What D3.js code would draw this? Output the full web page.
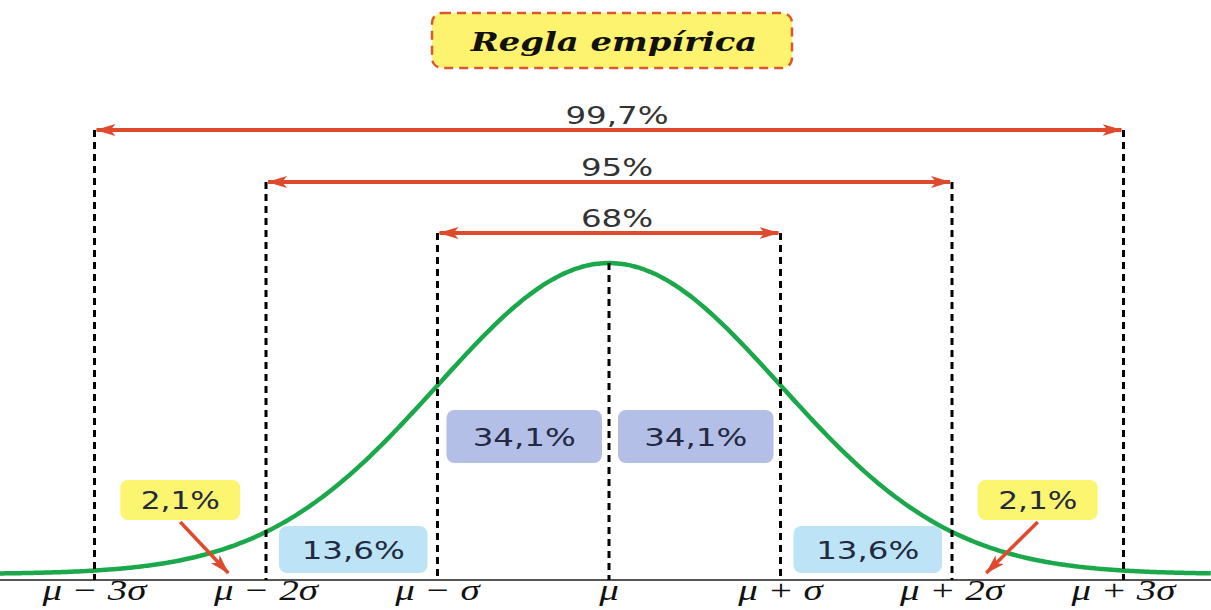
<!DOCTYPE html>
<html>
<head>
<meta charset="utf-8">
<script src="https://cdn.jsdelivr.net/npm/d3@7"></script>
<style>
  body { margin: 0; background: #fff; }
  svg { display: block; }
</style>
</head>
<body>
<div id="chart"></div>
<script>
// data
const sigmaTicks = [-3, -2, -1, 0, 1, 2, 3];
const tickLabels = ["μ − 3σ", "μ − 2σ", "μ − σ", "μ", "μ + σ", "μ + 2σ", "μ + 3σ"];
const spanSigmas = [3, 2, 1];
const spanLabels = ["99,7%", "95%", "68%"];
const innerBands = [[-1, 0], [0, 1]];
const innerLabels = ["34,1%", "34,1%"];
const midBands = [[-2, -1], [1, 2]];
const midLabels = ["13,6%", "13,6%"];
const tailCenters = [-2.5, 2.5];
const tailTargets = [-2.22, 2.2];
const tailLabels = ["2,1%", "2,1%"];
const title = "Regla empírica";

const w = 1211, h = 610;
const svg = d3.select("#chart").append("svg").attr("width", w).attr("height", h);

// scales: x in sigma units, y normalised density
const x = d3.scaleLinear().domain([-3, 3]).range([94.5, 1123.5]);
const y = d3.scaleLinear().domain([0, 1]).range([574, 263]);
const baseY = 580;
const spanY = {3: 130, 2: 182, 1: 233};

const red = "#e04a2c";
const stretch = 1.3; // the original lettering is drawn wide

// text helper: centred at cx, baseline cy, stretched horizontally
function wideText(cx, cy, str, size, family, color, italic, bold) {
    return svg.append("text")
        .attr("transform", "translate(" + cx + "," + cy + ") scale(" + stretch + ",1)")
        .attr("text-anchor", "middle")
        .style("font-family", family)
        .style("font-size", size + "px")
        .style("font-style", italic ? "italic" : "normal")
        .style("font-weight", bold ? "bold" : "normal")
        .attr("fill", color)
        .text(str);
}

const defs = svg.append("defs");
defs.append("marker")
    .attr("id", "head")
    .attr("viewBox", "0 0 20 12")
    .attr("refX", 19).attr("refY", 6)
    .attr("markerWidth", 20).attr("markerHeight", 12)
    .attr("markerUnits", "userSpaceOnUse")
    .attr("orient", "auto-start-reverse")
    .append("path")
    .attr("d", "M0,0 L20,6 L0,12 L5,6 Z")
    .attr("fill", red);

// title box
svg.append("rect")
    .attr("x", 432).attr("y", 13).attr("width", 360).attr("height", 55)
    .attr("rx", 10)
    .attr("fill", "#fef36e")
    .attr("stroke", "#d9592e").attr("stroke-width", 2.5)
    .attr("stroke-dasharray", "9,6");
wideText(614, 51, title, 26, "'DejaVu Serif', serif", "#111", true, true);

// baseline
svg.append("line")
    .attr("x1", 0).attr("x2", w)
    .attr("y1", baseY).attr("y2", baseY)
    .attr("stroke", "#555").attr("stroke-width", 1.8);

// boxes
function box(x0, x1, y0, y1, fill, label, size) {
    svg.append("rect")
        .attr("x", x0).attr("y", y0)
        .attr("width", x1 - x0).attr("height", y1 - y0)
        .attr("rx", 8)
        .attr("fill", fill);
    wideText((x0 + x1) / 2, (y0 + y1) / 2 + size * 0.36, label, size, "'DejaVu Sans', sans-serif", "#232a3f");
}

innerBands.forEach((b, i) => box(x(b[0]) + 9, x(b[1]) - 7, 410, 463, "#b4bfe8", innerLabels[i], 25));
midBands.forEach((b, i) => box(x(b[0]) + 13, x(b[1]) - 10, 526, 573, "#bce4f6", midLabels[i], 25));
tailCenters.forEach((c, i) => box(x(c) - 60, x(c) + 60, 480, 520, "#fcf570", tailLabels[i], 24));

// curve
const curveData = d3.range(x.invert(0), x.invert(w) + 0.01, 0.02);
svg.append("path")
    .datum(curveData)
    .attr("fill", "none")
    .attr("stroke", "#1ba84b")
    .attr("stroke-width", 4.5)
    .attr("d", d3.line().x(d => x(d)).y(d => y(Math.exp(-d * d / 2))).curve(d3.curveBasis));

// dashed verticals
svg.selectAll(".vline")
    .data(sigmaTicks)
    .enter()
    .append("line")
    .attr("class", "vline")
    .attr("x1", d => x(d)).attr("x2", d => x(d))
    .attr("y1", d => d === 0 ? y(1) : spanY[Math.abs(d)])
    .attr("y2", baseY)
    .attr("stroke", "#000").attr("stroke-width", 3)
    .attr("stroke-dasharray", "7,5");

// span arrows
spanSigmas.forEach((s, i) => {
    svg.append("line")
        .attr("x1", x(-s) + 2).attr("x2", x(s) - 2)
        .attr("y1", spanY[s]).attr("y2", spanY[s])
        .attr("stroke", red).attr("stroke-width", 4)
        .attr("marker-start", "url(#head)")
        .attr("marker-end", "url(#head)");
    wideText(x(0) + 8, spanY[s] - 6, spanLabels[i], 25, "'DejaVu Sans', sans-serif", "#333");
});

// tail arrows
tailCenters.forEach((c, i) => {
    svg.append("line")
        .attr("x1", x(c)).attr("y1", 522)
        .attr("x2", x(tailTargets[i])).attr("y2", 573)
        .attr("stroke", red).attr("stroke-width", 3.5)
        .attr("marker-end", "url(#head)");
});

// axis labels
sigmaTicks.forEach((d, i) => {
    wideText(x(d), 600, tickLabels[i], 30, "'Liberation Serif', serif", "#111", true);
});
</script>
</body>
</html>
